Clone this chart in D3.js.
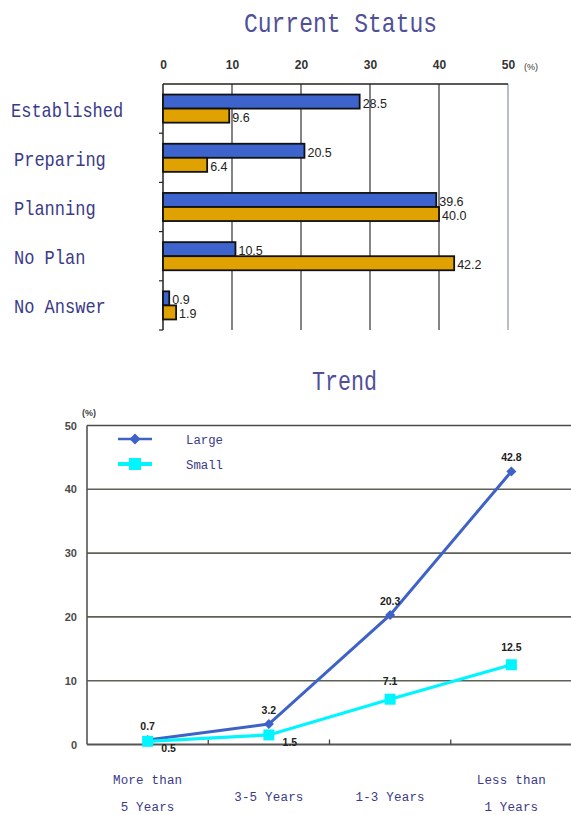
<!DOCTYPE html>
<html>
<head>
<meta charset="utf-8">
<script src="https://cdn.jsdelivr.net/npm/d3@7/dist/d3.min.js"></script>
<style>
  html, body { margin: 0; padding: 0; background: #ffffff; }
  svg { display: block; }
</style>
</head>
<body>
<script>
// ---- Data ----
const categories   = ["Established", "Preparing", "Planning", "No Plan", "No Answer"];
const largeStatus  = [28.5, 20.5, 39.6, 10.5, 0.9];
const smallStatus  = [9.6, 6.4, 40.0, 42.2, 1.9];
const statusTicks  = [0, 10, 20, 30, 40, 50];

const periods      = [["More than", "5 Years"], ["3-5 Years"], ["1-3 Years"], ["Less than", "1 Years"]];
const largeTrend   = [0.7, 3.2, 20.3, 42.8];
const smallTrend   = [0.5, 1.5, 7.1, 12.5];
const trendTicks   = [0, 10, 20, 30, 40, 50];
const seriesNames  = ["Large", "Small"];

// ---- Styles ----
const W = 571, H = 815;
const titleColor = "#50509a";
const labelColor = "#3a3a88";
const monoFont = "'Liberation Mono', 'DejaVu Sans Mono', monospace";
const numFont = "Arial, 'Liberation Sans', sans-serif";
const blue = "#3d64cc", orange = "#e0a200";
const lineBlue = "#3f62c8", cyan = "#00f5ff";

const svg = d3.select("body").append("svg")
  .attr("width", W).attr("height", H)
  .attr("viewBox", `0 0 ${W} ${H}`);
svg.append("rect").attr("width", W).attr("height", H).attr("fill", "#fff");

// =============== Current Status (horizontal bars) ===============
const bx = d3.scaleLinear().domain([0, 50]).range([163, 508]);
const by = d3.scaleBand().domain(categories).range([84, 330]);
const inner = d3.scaleBand().domain(seriesNames).range([0, by.bandwidth()]).paddingOuter(0.75);

svg.append("text")
  .attr("x", 244).attr("y", 32)
  .attr("textLength", 193).attr("lengthAdjust", "spacingAndGlyphs")
  .attr("font-family", monoFont).attr("font-size", 28)
  .attr("fill", titleColor)
  .text("Current Status");

// top tick labels
const topAxis = svg.append("g")
  .attr("transform", `translate(0,84)`)
  .call(d3.axisTop(bx).tickValues(statusTicks).tickSize(0).tickPadding(15));
topAxis.select(".domain").remove();
topAxis.selectAll("text")
  .attr("font-family", numFont).attr("font-size", 12).attr("font-weight", "bold")
  .attr("fill", "#333");
svg.append("text")
  .attr("x", bx(50) + 16).attr("y", 70)
  .attr("font-family", numFont).attr("font-size", 9).attr("fill", "#333")
  .text("(%)");

// vertical gridlines
svg.append("g").selectAll("line")
  .data(statusTicks.filter(t => t > 0))
  .join("line")
  .attr("x1", d => bx(d)).attr("x2", d => bx(d))
  .attr("y1", 84).attr("y2", 330)
  .attr("stroke", d => d === 50 ? "#8a90aa" : "#333")
  .attr("stroke-width", 1.2);

// frame: top border and left axis
svg.append("line").attr("x1", bx(0)).attr("x2", bx(50)).attr("y1", 84).attr("y2", 84)
  .attr("stroke", "#222").attr("stroke-width", 1.5);
svg.append("line").attr("x1", bx(0)).attr("x2", bx(0)).attr("y1", 84).attr("y2", 330)
  .attr("stroke", "#222").attr("stroke-width", 1.5);
svg.append("g").selectAll("line")
  .data(categories)
  .join("line")
  .attr("x1", bx(0) - 4).attr("x2", bx(0))
  .attr("y1", d => by(d) + by.bandwidth()).attr("y2", d => by(d) + by.bandwidth())
  .attr("stroke", "#222").attr("stroke-width", 1.2);

// bars
const statusRows = categories.map((c, i) => ({
  cat: c,
  vals: [{ s: "Large", v: largeStatus[i] }, { s: "Small", v: smallStatus[i] }]
}));
const groups = svg.append("g").selectAll("g")
  .data(statusRows).join("g")
  .attr("transform", d => `translate(0,${by(d.cat)})`);
groups.selectAll("rect")
  .data(d => d.vals).join("rect")
  .attr("x", bx(0))
  .attr("y", d => inner(d.s))
  .attr("width", d => bx(d.v) - bx(0))
  .attr("height", inner.bandwidth())
  .attr("fill", d => d.s === "Large" ? blue : orange)
  .attr("stroke", "#111").attr("stroke-width", 1.8);
groups.selectAll("text")
  .data(d => d.vals).join("text")
  .attr("x", d => bx(d.v) + 3)
  .attr("y", d => inner(d.s) + inner.bandwidth() / 2 + 6)
  .attr("font-family", numFont).attr("font-size", 12.5)
  .attr("fill", "#222")
  .text(d => d.v.toFixed(1));

// category labels
svg.append("g").selectAll("text")
  .data(categories).join("text")
  .attr("x", (d, i) => i === 0 ? 11 : 14)
  .attr("y", d => by(d) + by.bandwidth() / 2 + 8)
  .attr("textLength", d => d.length * 10.2)
  .attr("lengthAdjust", "spacingAndGlyphs")
  .attr("font-family", monoFont).attr("font-size", 21)
  .attr("fill", labelColor)
  .text(d => d);

// =============== Trend (lines) ===============
const lx = d3.scaleBand().domain(d3.range(periods.length)).range([87, 572]);
const ly = d3.scaleLinear().domain([0, 50]).range([744.5, 425.5]);
const cx = i => lx(i) + lx.bandwidth() / 2;

svg.append("text")
  .attr("x", 312).attr("y", 390)
  .attr("textLength", 65).attr("lengthAdjust", "spacingAndGlyphs")
  .attr("font-family", monoFont).attr("font-size", 28)
  .attr("fill", titleColor)
  .text("Trend");

// horizontal gridlines
svg.append("g").selectAll("line")
  .data(trendTicks.filter(t => t > 0 && t < 50))
  .join("line")
  .attr("x1", 87).attr("x2", W)
  .attr("y1", d => ly(d)).attr("y2", d => ly(d))
  .attr("stroke", "#5d6256").attr("stroke-width", 1.6);
svg.append("line").attr("x1", 87).attr("x2", W).attr("y1", ly(50)).attr("y2", ly(50))
  .attr("stroke", "#4a4a4a").attr("stroke-width", 1.3);
svg.append("line").attr("x1", 87).attr("x2", 87).attr("y1", ly(50)).attr("y2", ly(0))
  .attr("stroke", "#555").attr("stroke-width", 1.6);
svg.append("line").attr("x1", 87).attr("x2", W).attr("y1", ly(0)).attr("y2", ly(0))
  .attr("stroke", "#555").attr("stroke-width", 2);
// category boundary ticks on the baseline
svg.append("g").selectAll("line")
  .data(d3.range(1, periods.length))
  .join("line")
  .attr("x1", i => lx(i)).attr("x2", i => lx(i))
  .attr("y1", ly(0) - 5).attr("y2", ly(0))
  .attr("stroke", "#444").attr("stroke-width", 1.3);

// y axis labels
const leftAxis = svg.append("g")
  .attr("transform", "translate(87,0)")
  .call(d3.axisLeft(ly).tickValues(trendTicks).tickSize(0).tickPadding(10));
leftAxis.select(".domain").remove();
leftAxis.selectAll("text")
  .attr("font-family", numFont).attr("font-size", 11).attr("font-weight", "bold")
  .attr("fill", "#4a4a4a");
svg.append("text")
  .attr("x", 89).attr("y", 416).attr("text-anchor", "middle")
  .attr("font-family", numFont).attr("font-size", 9).attr("font-weight", "bold")
  .attr("fill", "#444")
  .text("(%)");

// lines and markers
const line = d3.line().x((d, i) => cx(i)).y(d => ly(d));
svg.append("path").datum(largeTrend).attr("d", line)
  .attr("fill", "none").attr("stroke", lineBlue).attr("stroke-width", 3);
svg.append("g").selectAll("path")
  .data(largeTrend).join("path")
  .attr("d", d3.symbol(d3.symbolSquare, 50))
  .attr("transform", (d, i) => `translate(${cx(i)},${ly(d)}) rotate(45)`)
  .attr("fill", lineBlue);

svg.append("path").datum(smallTrend).attr("d", line)
  .attr("fill", "none").attr("stroke", cyan).attr("stroke-width", 3.2);
svg.append("g").selectAll("rect")
  .data(smallTrend).join("rect")
  .attr("x", (d, i) => cx(i) - 5.5).attr("y", d => ly(d) - 5.5)
  .attr("width", 11).attr("height", 11)
  .attr("fill", cyan);

// value labels
const valueLabel = sel => sel
  .attr("font-family", numFont).attr("font-size", 10.5).attr("font-weight", "bold")
  .attr("fill", "#222").attr("text-anchor", "middle");
svg.append("g").selectAll("text")
  .data(largeTrend).join("text")
  .attr("x", (d, i) => cx(i))
  .attr("y", d => ly(d) - 10)
  .call(valueLabel)
  .text(d => d.toFixed(1));
svg.append("g").selectAll("text")
  .data(smallTrend).join("text")
  .attr("x", (d, i) => largeTrend[i] - d < 5 ? cx(i) + 21 : cx(i))
  .attr("y", (d, i) => largeTrend[i] - d < 5 ? ly(d) + 11 : ly(d) - 14)
  .call(valueLabel)
  .text(d => d.toFixed(1));

// category labels
const catG = svg.append("g").selectAll("text")
  .data(periods).join("text")
  .attr("x", (d, i) => cx(i))
  .attr("font-family", monoFont).attr("font-size", 12.5)
  .attr("letter-spacing", 0.2)
  .attr("text-anchor", "middle")
  .attr("fill", labelColor);
catG.selectAll("tspan")
  .data(d => d.map((t, k) => ({ t, k, n: d.length })))
  .join("tspan")
  .attr("x", function () { return d3.select(this.parentNode).attr("x"); })
  .attr("y", d => d.n === 1 ? 801 : 783.5 + d.k * 27.5)
  .text(d => d.t);

// legend
const legend = svg.append("g");
legend.append("line").attr("x1", 118).attr("x2", 152).attr("y1", 439).attr("y2", 439)
  .attr("stroke", lineBlue).attr("stroke-width", 2.5);
legend.append("path")
  .attr("d", d3.symbol(d3.symbolSquare, 60))
  .attr("transform", "translate(135,439) rotate(45)")
  .attr("fill", lineBlue);
legend.append("line").attr("x1", 118).attr("x2", 152).attr("y1", 464).attr("y2", 464)
  .attr("stroke", cyan).attr("stroke-width", 4);
legend.append("rect").attr("x", 129).attr("y", 458).attr("width", 12).attr("height", 12)
  .attr("fill", cyan);
legend.selectAll("text")
  .data(seriesNames).join("text")
  .attr("x", 186)
  .attr("y", (d, i) => 443.5 + i * 25)
  .attr("textLength", 37).attr("lengthAdjust", "spacingAndGlyphs")
  .attr("font-family", monoFont).attr("font-size", 12.5)
  .attr("fill", labelColor)
  .text(d => d);
</script>
</body>
</html>
